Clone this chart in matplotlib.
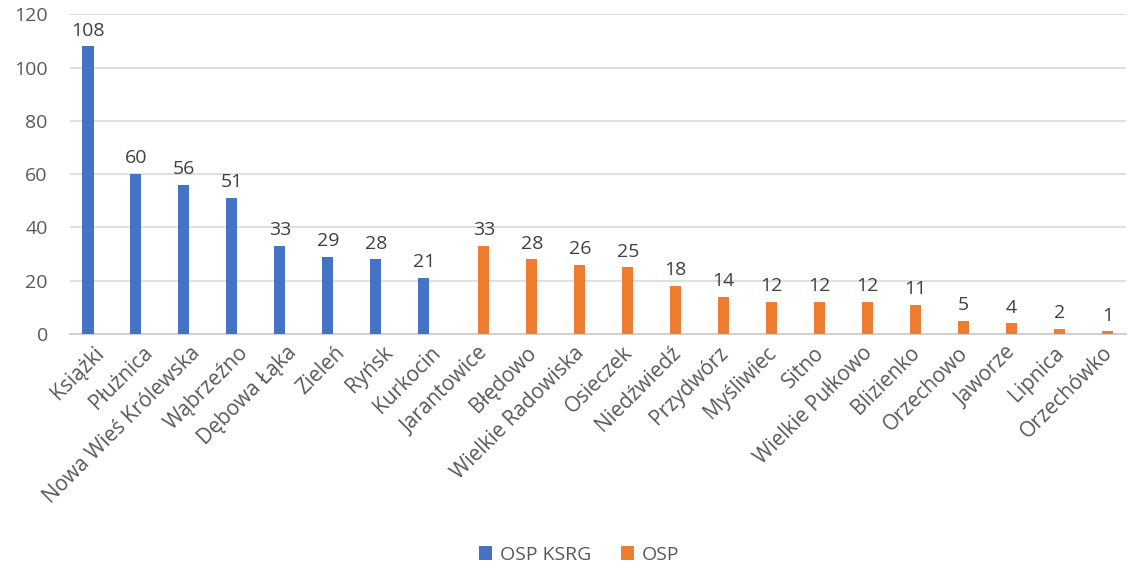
import matplotlib.pyplot as plt
import numpy as np

plt.rcParams['font.family'] = ['Open Sans', 'DejaVu Sans']

places = ["Książki", "Płużnica", "Nowa Wieś Królewska", "Wąbrzeźno", "Dębowa Łąka",
          "Zieleń", "Ryńsk", "Kurkocin", "Jarantowice", "Błędowo", "Wielkie Radowiska",
          "Osieczek", "Niedźwiedź", "Przydwórz", "Myśliwiec", "Sitno", "Wielkie Pułkowo",
          "Blizienko", "Orzechowo", "Jaworze", "Lipnica", "Orzechówko"]
ksrg = [108, 60, 56, 51, 33, 29, 28, 21] + [0] * 14
osp = [0] * 8 + [33, 28, 26, 25, 18, 14, 12, 12, 12, 11, 5, 4, 2, 1]

blue = "#4472C4"
orange = "#ED7D31"
txt = "#595959"

fig = plt.figure(figsize=(11.29, 5.71), dpi=100)
ax = fig.add_axes([0.062, 0.415, 0.935, 0.56])

x = np.arange(len(places))
w = 0.23
off = 0.125
ax.bar(x - off, ksrg, w, color=blue, label="OSP KSRG", zorder=3)
ax.bar(x + off, osp, w, color=orange, label="OSP", zorder=3)

for i in x:
    if ksrg[i] > 0:
        ax.text(i - off, ksrg[i] + 2.5, str(ksrg[i]), ha='center', va='bottom', fontsize=14, color="#404040")
    if osp[i] > 0:
        ax.text(i + off, osp[i] + 2.5, str(osp[i]), ha='center', va='bottom', fontsize=14, color="#404040")

ax.set_xlim(-0.5, len(places) - 0.5)
ax.set_ylim(0, 120)
ax.set_yticks(range(0, 121, 20))
ax.yaxis.grid(True, color="#D9D9D9", linewidth=1.2, zorder=0)
ax.set_axisbelow(True)
for s in ['top', 'right', 'left']:
    ax.spines[s].set_visible(False)
ax.spines['bottom'].set_color("#D0D0D0")
ax.spines['bottom'].set_linewidth(1.5)
ax.tick_params(axis='both', length=0, colors=txt)
ax.tick_params(axis='y', pad=16, labelsize=14)
ax.tick_params(axis='x', pad=6, labelsize=15)
ax.set_xticks(x)
ax.set_xticklabels(places, rotation=45, ha='right', rotation_mode='anchor')

ax.legend(loc='center', bbox_to_anchor=(0.513, 0.028), bbox_transform=fig.transFigure, ncol=2,
          frameon=False, fontsize=14, labelcolor=txt, handlelength=0.7, handleheight=0.7,
          columnspacing=1.5, handletextpad=0.4)

fig.savefig("out.png", dpi=100)
